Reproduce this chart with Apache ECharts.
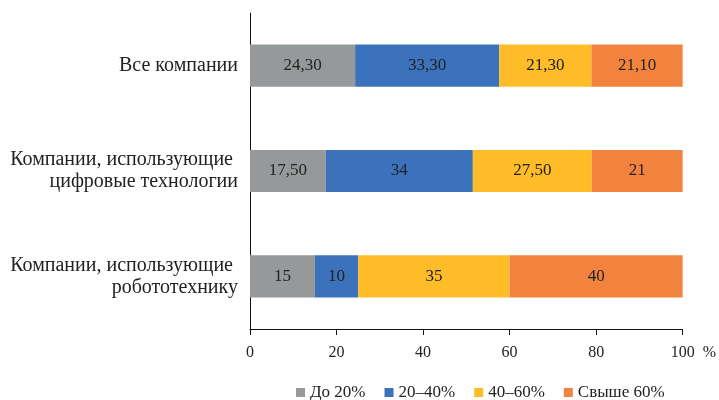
<!DOCTYPE html>
<html>
<head>
<meta charset="utf-8">
<script src="https://cdn.jsdelivr.net/npm/echarts@6/dist/echarts.min.js"></script>
<style>
  html, body { margin: 0; padding: 0; background: #ffffff; }
  #chart { width: 719px; height: 400px; }
</style>
</head>
<body>
<div id="chart"></div>
<script>
// Categories (top to bottom)
const categories = [
  'Все компании',
  'Компании, использующие \nцифровые технологии',
  'Компании, использующие \nробототехнику'
];

// Share of companies by level, written as printed (decimal point)
const upTo20 = ['24.30', '17.50', '15'];
const from20to40 = ['33.30', '34', '10'];
const from40to60 = ['21.30', '27.50', '35'];
const over60 = ['21.10', '21', '40'];

const seriesNames = ['До 20%', '20–40%', '40–60%', 'Свыше 60%'];
const seriesColors = ['#96999a', '#3c72bb', '#fdbc28', '#f2833e'];

const xTicks = [0, 20, 40, 60, 80, 100];

const serif = '"Liberation Serif", "DejaVu Serif", serif';

function makeSeries(name, values, color) {
  return {
    name: name,
    type: 'bar',
    stack: 'total',
    barWidth: '40%',
    itemStyle: { color: color },
    label: {
      show: true,
      position: 'inside',
      color: '#222',
      fontFamily: serif,
      fontSize: 17,
      formatter: p => values[p.dataIndex].replace('.', ',')
    },
    data: values.map(v => parseFloat(v))
  };
}

const chart = echarts.init(document.getElementById('chart'));
chart.setOption({
  animation: false,
  textStyle: { fontFamily: serif },
  grid: { left: 250, right: 35, top: 13, bottom: 71 },
  legend: {
    top: 379,
    left: 291,
    itemWidth: 9,
    itemHeight: 9,
    itemGap: 19,
    icon: 'rect',
    textStyle: { fontFamily: serif, fontSize: 17, color: '#222' },
    data: seriesNames
  },
  xAxis: {
    type: 'value',
    min: xTicks[0],
    max: xTicks[xTicks.length - 1],
    interval: 20,
    name: '%',
    nameLocation: 'end',
    nameGap: 20,
    nameTextStyle: {
      fontFamily: serif, fontSize: 16, color: '#222',
      verticalAlign: 'top', padding: [16, 0, 0, 0]
    },
    axisLine: { show: true, lineStyle: { color: '#111', width: 1 } },
    axisTick: { show: true, length: 6, lineStyle: { color: '#111' } },
    axisLabel: { fontFamily: serif, fontSize: 16, color: '#222', margin: 16 },
    splitLine: { show: false }
  },
  yAxis: {
    type: 'category',
    inverse: true,
    data: categories,
    axisLine: { show: true, lineStyle: { color: '#111', width: 1 } },
    axisTick: { show: false },
    axisLabel: {
      fontFamily: serif, fontSize: 20, color: '#222',
      margin: 12, align: 'right', lineHeight: 22
    }
  },
  series: [
    makeSeries(seriesNames[0], upTo20, seriesColors[0]),
    makeSeries(seriesNames[1], from20to40, seriesColors[1]),
    makeSeries(seriesNames[2], from40to60, seriesColors[2]),
    makeSeries(seriesNames[3], over60, seriesColors[3])
  ]
});
</script>
</body>
</html>
